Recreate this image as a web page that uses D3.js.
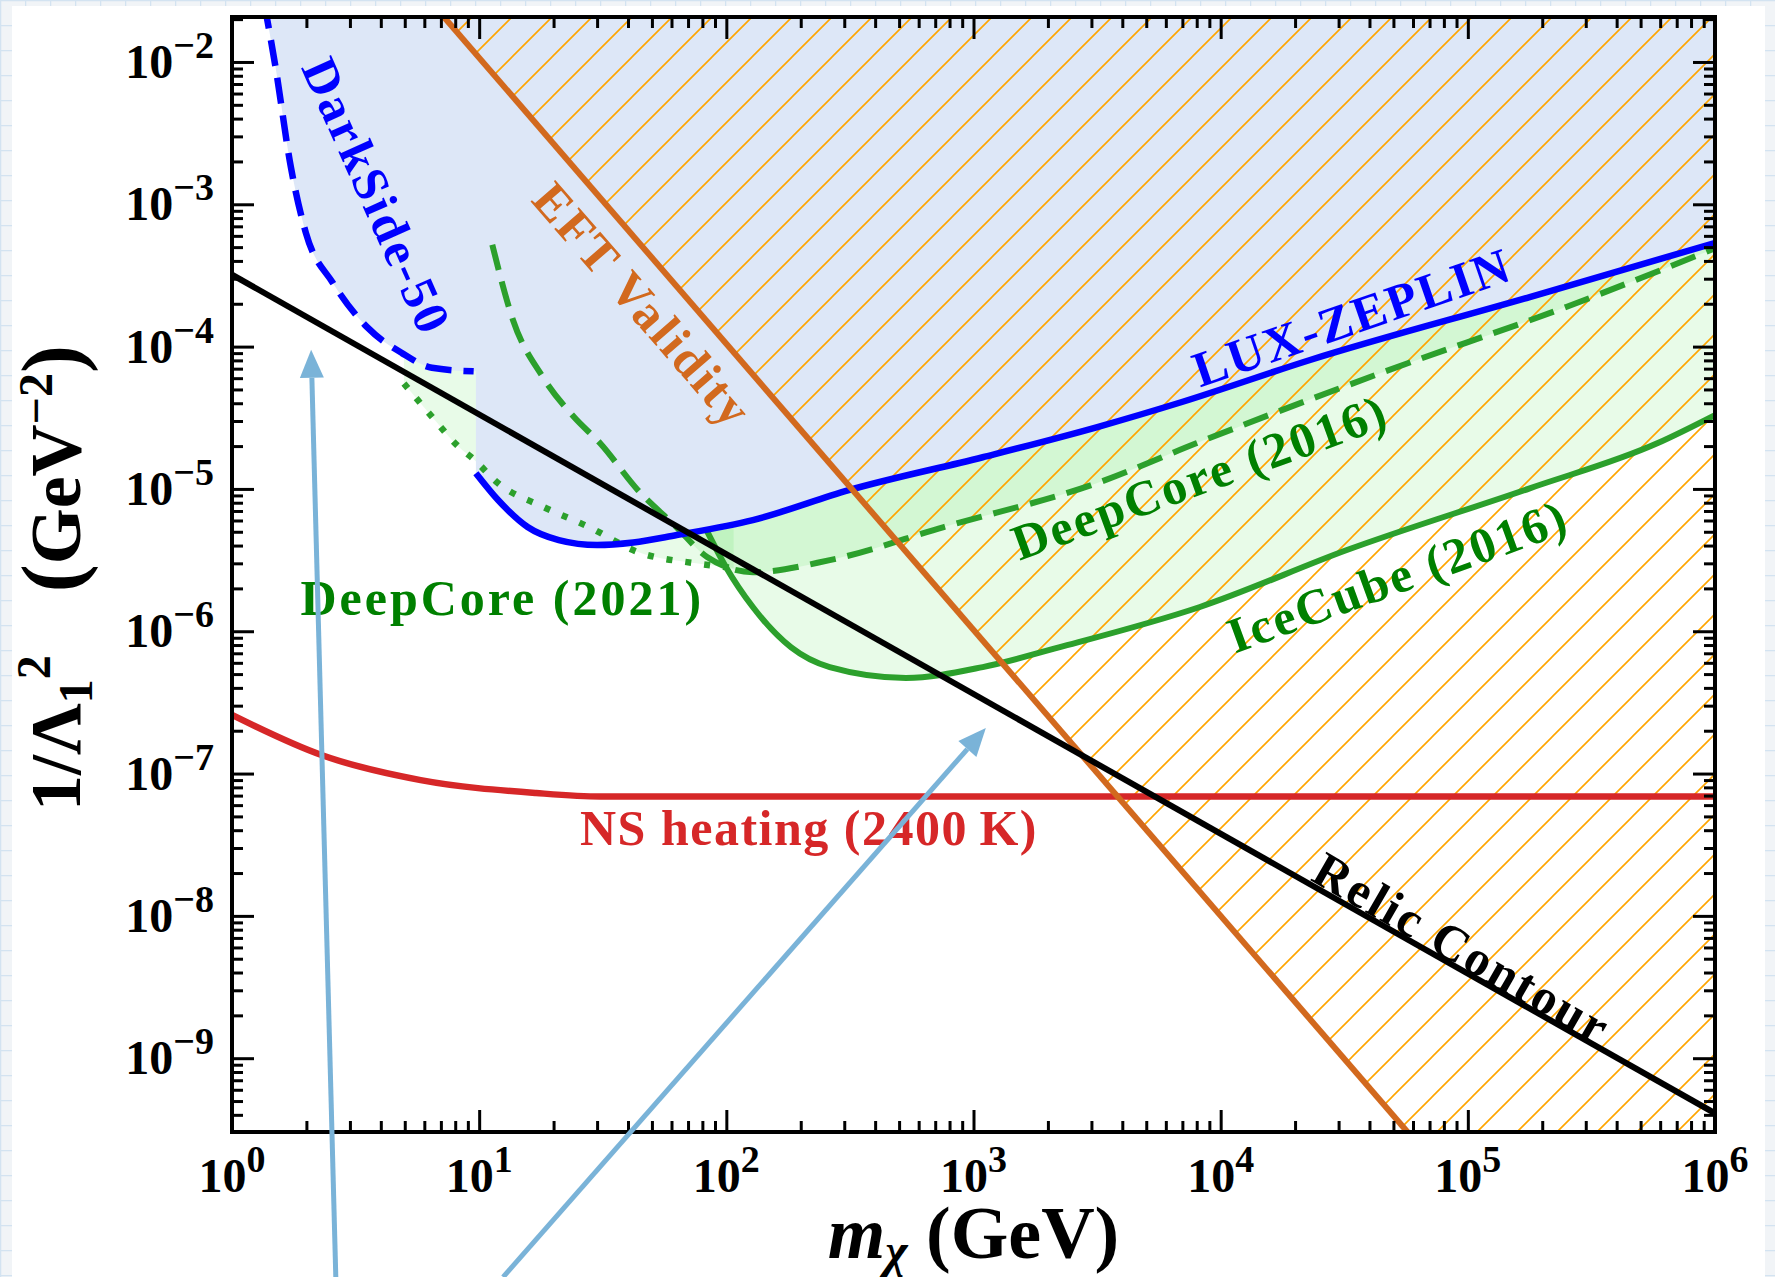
<!DOCTYPE html>
<html>
<head>
<meta charset="utf-8">
<script src="https://cdn.jsdelivr.net/npm/d3@7"></script>
<style>
  body { margin: 0; background: #eef2f6; }
  svg { display: block; }
  text { font-family: "Liberation Serif", "Times New Roman", serif; }
</style>
</head>
<body>
<div id="wrapper"></div>
<script>
// values: [mass m_chi (GeV), 1/Lambda_1^2 (GeV^-2)]
const relic = [[1, 3.2e-4], [1e6, 4.1e-10]];
const eft = [[7.2, 2.07e-2], [5.7e4, 3.03e-10]];
const darkside = [[1.35, 2.6e-2], [1.5, 9.2e-3], [1.73, 1.83e-3], [1.99, 6.3e-4], [2.56, 2.8e-4],
    [3.52, 1.37e-4], [4.87, 9.0e-5], [6.44, 7.1e-5], [9.5, 6.7e-5]];
const luxZeplin = [[9.7, 1.29e-5], [11.9, 8.4e-6], [15.7, 5.4e-6], [21, 4.37e-6], [30, 4.03e-6],
    [42, 4.2e-6], [63, 4.74e-6], [128, 6.04e-6], [313, 9.8e-6], [1090, 1.67e-5], [3170, 2.72e-5],
    [6970, 4.08e-5], [2.3e4, 8.05e-5], [1.78e5, 2.23e-4], [1e6, 5.35e-4]];
const deepcore2016 = [[11.3, 5.2e-4], [13.7, 1.54e-4], [18.1, 6.1e-5], [24.2, 3.2e-5], [30.8, 2.1e-5],
    [43.9, 9.8e-6], [62.8, 5.4e-6], [83.6, 3.32e-6], [128, 2.6e-6], [262, 3.16e-6], [758, 5.4e-6],
    [3170, 1.1e-5], [8010, 2.1e-5], [4.53e4, 6.6e-5], [2.5e5, 1.9e-4], [1e6, 4.9e-4]];
const icecube2016 = [[83.5, 5.06e-6], [99.6, 2.83e-6], [128, 1.48e-6], [183, 7.7e-7], [262, 5.6e-7],
    [533, 4.7e-7], [1090, 5.6e-7], [2216, 7.7e-7], [8240, 1.48e-6], [3.24e4, 3.72e-6],
    [1.78e5, 1.01e-5], [5.87e5, 2.1e-5], [1e6, 3.3e-5]];
const deepcore2021 = [[4.96, 5.5e-5], [6.27, 3.4e-5], [8.28, 1.97e-5], [9.57, 1.6e-5], [11.9, 1.1e-5],
    [18.1, 7.5e-6], [27.8, 5.4e-6], [43.9, 3.6e-6], [75.3, 3.0e-6], [107, 2.78e-6]];
const nsHeating = [[1, 2.58e-7], [2.3, 1.35e-7], [5.8, 9.0e-8], [17, 7.3e-8], [31, 6.9e-8],
    [100, 6.9e-8], [1e6, 6.9e-8]];

// axis ticks
const xTickValues = [1, 10, 100, 1e3, 1e4, 1e5, 1e6];
const xTickExp = ['0', '1', '2', '3', '4', '5', '6'];
const yTickValues = [1e-2, 1e-3, 1e-4, 1e-5, 1e-6, 1e-7, 1e-8, 1e-9];
const yTickExp = ['−2', '−3', '−4', '−5', '−6', '−7', '−8', '−9'];

// curve labels: text, colour, anchor point (data units), rotation
const labelText = ['DarkSide-50', 'EFT Validity', 'LUX-ZEPLIN', 'DeepCore (2016)', 'IceCube (2016)',
    'Relic Contour'];
const labelColor = ['#0000ff', '#d2691e', '#0000ff', '#008000', '#008000', '#000000'];
const labelAt = [[3.85, 1.14e-3], [46, 1.96e-4], [3.4e4, 1.61e-4], [8240, 1.21e-5], [5.2e4, 2.44e-6],
    [9.5e4, 5.9e-9]];
const labelAngle = [66, 49, -19, -20, -20, 30];

// annotation arrows (tail below the frame, head inside)
const arrowTails = [[2.63, 2.9e-11], [12.5, 2.9e-11]];
const arrowTips = [[2.09, 9.5e-5], [1122, 2.09e-7]];

async function drawChart() {
    const xAccessor = d => d[0];
    const yAccessor = d => d[1];

    const dimensions = {
        width: 1775,
        height: 1277,
        margin: { top: 17, right: 60, bottom: 145, left: 232 }
    };
    dimensions.boundedWidth = dimensions.width - dimensions.margin.left - dimensions.margin.right;
    dimensions.boundedHeight = dimensions.height - dimensions.margin.top - dimensions.margin.bottom;

    const wrapper = d3.select('#wrapper').append('svg')
        .attr('width', dimensions.width)
        .attr('height', dimensions.height);

    // grid paper behind the white card
    const defs = wrapper.append('defs');
    const grid = defs.append('pattern').attr('id', 'paper')
        .attr('patternUnits', 'userSpaceOnUse').attr('width', 25).attr('height', 25);
    grid.append('rect').attr('width', 25).attr('height', 25).attr('fill', '#f1f4f7');
    grid.append('path').attr('d', 'M0 0.5H25M0.5 0V25').attr('stroke', '#d3e3f1').attr('stroke-width', 1.5);

    const hatch = defs.append('pattern').attr('id', 'hatch')
        .attr('patternUnits', 'userSpaceOnUse').attr('width', 40).attr('height', 40);
    hatch.append('path').attr('d', 'M-4 44L44 -4M-4 4L4 -4M36 44L44 36')
        .attr('stroke', '#ffa500').attr('stroke-width', 1.6);

    defs.append('clipPath').attr('id', 'plotClip')
        .append('rect').attr('width', dimensions.boundedWidth).attr('height', dimensions.boundedHeight);

    wrapper.append('rect').attr('width', dimensions.width).attr('height', dimensions.height)
        .attr('fill', 'url(#paper)');
    wrapper.append('rect').attr('x', 12).attr('y', 6)
        .attr('width', 1753).attr('height', dimensions.height).attr('fill', 'white');

    const bounds = wrapper.append('g')
        .attr('transform', `translate(${dimensions.margin.left},${dimensions.margin.top})`);

    //scales
    const xScale = d3.scaleLog().domain([1, 1e6]).range([0, dimensions.boundedWidth]);
    const yScale = d3.scaleLog().domain([3.03e-10, 2.07e-2]).range([dimensions.boundedHeight, 0]);
    const [xMin, xMax] = xScale.domain();
    const [yMin, yMax] = yScale.domain();

    const line = d3.line()
        .x(d => xScale(xAccessor(d)))
        .y(d => yScale(yAccessor(d)))
        .curve(d3.curveMonotoneX);
    const straight = d3.line()
        .x(d => xScale(xAccessor(d)))
        .y(d => yScale(yAccessor(d)));
    const areaAbove = d3.area()
        .x(d => xScale(xAccessor(d)))
        .y0(d => yScale(yAccessor(d)))
        .y1(0)
        .curve(d3.curveMonotoneX);

    const plot = bounds.append('g').attr('clip-path', 'url(#plotClip)');

    // excluded regions
    [deepcore2021, deepcore2016, icecube2016].forEach(set => {
        plot.append('path').attr('d', areaAbove(set))
            .attr('fill', '#19d619').attr('fill-opacity', 0.1);
    });
    const lastDs = darkside[darkside.length - 1];
    plot.append('path').attr('d', areaAbove(darkside.concat([[luxZeplin[0][0] * 1.04, yAccessor(lastDs)]])))
        .attr('fill', '#dde7f7');
    plot.append('path').attr('d', areaAbove(luxZeplin)).attr('fill', '#dde7f7');

    // EFT hatch: everything right of the EFT line
    plot.append('path')
        .attr('d', straight(eft.concat([[xMax, yMin], [xMax, yMax]])) + 'Z')
        .attr('fill', 'url(#hatch)');

    // curves
    const curves = [
        { data: deepcore2021, color: '#2ca02c', width: 6.5, dash: '6,13', fn: line },
        { data: deepcore2016, color: '#2ca02c', width: 6, dash: '26,12', fn: line },
        { data: icecube2016, color: '#2ca02c', width: 6, dash: null, fn: line },
        { data: darkside, color: '#0000ff', width: 6.5, dash: '26,12', fn: line },
        { data: luxZeplin, color: '#0000ff', width: 6.5, dash: null, fn: line },
        { data: nsHeating, color: '#d62728', width: 6.5, dash: null, fn: line },
        { data: eft, color: '#d2691e', width: 6, dash: null, fn: straight },
        { data: relic, color: '#000000', width: 6, dash: null, fn: straight }
    ];
    curves.forEach(c => {
        plot.append('path').attr('d', c.fn(c.data))
            .attr('fill', 'none')
            .attr('stroke', c.color)
            .attr('stroke-width', c.width)
            .attr('stroke-dasharray', c.dash);
    });

    // labels
    labelText.forEach((t, i) => {
        const [lx, ly] = labelAt[i];
        bounds.append('text')
            .attr('transform', `translate(${xScale(lx)},${yScale(ly)}) rotate(${labelAngle[i]})`)
            .attr('text-anchor', 'middle')
            .attr('dominant-baseline', 'central')
            .attr('fill', labelColor[i])
            .style('font-size', '50px')
            .style('font-weight', 'bold')
            .style('letter-spacing', '2.5px')
            .text(t);
    });
    bounds.append('text')
        .attr('x', xScale(12.4)).attr('y', yScale(1.3e-6))
        .attr('text-anchor', 'middle').attr('fill', '#008000')
        .style('font-size', '50px').style('font-weight', 'bold').style('letter-spacing', '3px')
        .text('DeepCore (2021)');
    bounds.append('text')
        .attr('x', xScale(216)).attr('y', yScale(3.15e-8))
        .attr('text-anchor', 'middle').attr('fill', '#d62728')
        .style('font-size', '50px').style('font-weight', 'bold').style('letter-spacing', '1.5px')
        .text('NS heating (2400\u2009K)');

    // ticks on all four sides, pointing in
    const minorX = [];
    for (let e = 0; e < 6; e++) for (let k = 2; k < 10; k++) minorX.push(k * Math.pow(10, e));
    const minorY = [];
    for (let e = -10; e < -1; e++) for (let k = 2; k < 10; k++) {
        const v = k * Math.pow(10, e);
        if (v > yMin && v < yMax) minorY.push(v);
    }
    const axes = bounds.append('g').attr('class', 'axes');
    const tickSets = [
        [d3.axisBottom(xScale), xTickValues, minorX, `translate(0,${dimensions.boundedHeight})`],
        [d3.axisTop(xScale), xTickValues, minorX, 'translate(0,0)'],
        [d3.axisLeft(yScale), yTickValues, minorY, 'translate(0,0)'],
        [d3.axisRight(yScale), yTickValues, minorY, `translate(${dimensions.boundedWidth},0)`]
    ];
    tickSets.forEach(([gen, major, minor, tr]) => {
        [[major, -22], [minor, -11]].forEach(([vals, size]) => {
            const g = axes.append('g').attr('transform', tr)
                .call(gen.tickValues(vals).tickSize(size).tickFormat(''));
            g.select('.domain').remove();
            g.selectAll('line').attr('stroke', 'black').attr('stroke-width', 3);
        });
    });
    axes.append('rect')
        .attr('width', dimensions.boundedWidth).attr('height', dimensions.boundedHeight)
        .attr('fill', 'none').attr('stroke', 'black').attr('stroke-width', 4);

    // tick labels
    axes.selectAll('.ylab').data(yTickValues).join('text')
        .attr('class', 'ylab')
        .attr('x', -18).attr('y', d => yScale(d) + 16)
        .attr('text-anchor', 'end')
        .style('font-size', '48px').style('font-weight', 'bold')
        .each(function (d, i) {
            const t = d3.select(this);
            t.append('tspan').text('10');
            t.append('tspan').attr('dy', -20).style('font-size', '38px').text(yTickExp[i]);
        });
    axes.selectAll('.xlab').data(xTickValues).join('text')
        .attr('class', 'xlab')
        .attr('x', d => xScale(d)).attr('y', dimensions.boundedHeight + 60)
        .attr('text-anchor', 'middle')
        .style('font-size', '48px').style('font-weight', 'bold')
        .each(function (d, i) {
            const t = d3.select(this);
            t.append('tspan').text('10');
            t.append('tspan').attr('dy', -20).style('font-size', '38px').text(xTickExp[i]);
        });

    // axis titles
    const xTitle = wrapper.append('text')
        .attr('x', dimensions.margin.left + dimensions.boundedWidth / 2)
        .attr('y', 1258)
        .attr('text-anchor', 'middle')
        .style('font-size', '74px').style('font-weight', 'bold');
    xTitle.append('tspan').style('font-style', 'italic').text('m');
    xTitle.append('tspan').style('font-style', 'italic').style('font-size', '48px').attr('dy', 9).text('χ');
    xTitle.append('tspan').attr('dy', -9).text(' (GeV)');

    const yTitle = wrapper.append('text')
        .attr('transform', `translate(80,578) rotate(-90)`)
        .attr('text-anchor', 'middle')
        .style('font-size', '72px').style('font-weight', 'bold');
    yTitle.append('tspan').text('1/Λ');
    yTitle.append('tspan').style('font-size', '48px').attr('dy', 12).text('1');
    yTitle.append('tspan').style('font-size', '48px').attr('dy', -42).text('2');
    yTitle.append('tspan').style('font-size', '84px').attr('dy', 30).text('\u2002 (');
    yTitle.append('tspan').text('GeV');
    yTitle.append('tspan').style('font-size', '48px').attr('dy', -28).text('−2');
    yTitle.append('tspan').style('font-size', '84px').attr('dy', 28).text(')');

    // annotation arrows
    const arrows = bounds.append('g').attr('class', 'arrows');
    arrowTips.forEach((tip, i) => {
        const x0 = xScale(arrowTails[i][0]), y0 = yScale(arrowTails[i][1]);
        const x1 = xScale(tip[0]), y1 = yScale(tip[1]);
        const len = Math.hypot(x1 - x0, y1 - y0);
        const ux = (x1 - x0) / len, uy = (y1 - y0) / len;
        const head = 28, half = 12;
        const bx = x1 - ux * head, by = y1 - uy * head;
        arrows.append('line')
            .attr('x1', x0).attr('y1', y0).attr('x2', bx).attr('y2', by)
            .attr('stroke', '#7ab3d8').attr('stroke-width', 5);
        arrows.append('path')
            .attr('d', `M${x1},${y1}L${bx - uy * half},${by + ux * half}L${bx + uy * half},${by - ux * half}Z`)
            .attr('fill', '#7ab3d8');
    });
}

drawChart();
</script>
</body>
</html>
